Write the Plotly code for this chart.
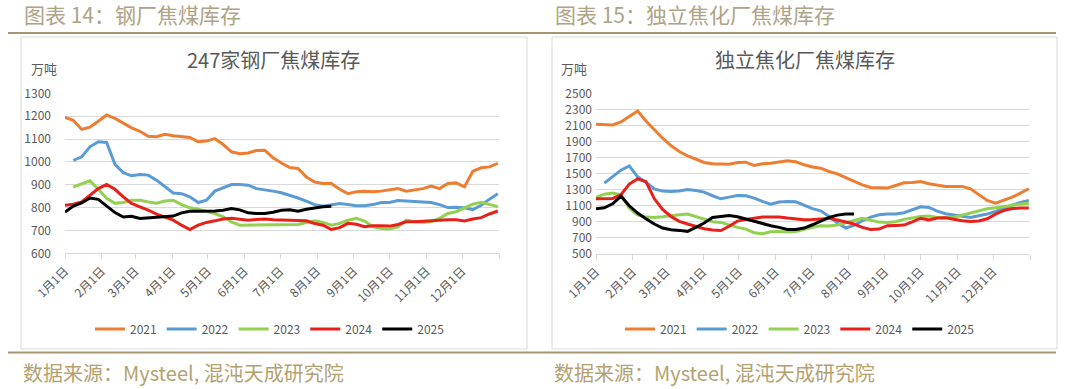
import plotly.graph_objects as go

W, H = 1080, 389

# ---------------- data ----------------
week_days = [7 * k for k in range(53)]          # day-of-year of weekly observations
month_ticks = [0, 31, 59, 90, 120, 151, 181, 212, 243, 273, 304, 334, 365]
month_labels = ["1月1日", "2月1日", "3月1日", "4月1日", "5月1日", "6月1日", "7月1日",
                "8月1日", "9月1日", "10月1日", "11月1日", "12月1日", ""]
years = ["2021", "2022", "2023", "2024", "2025"]

N = None
steel_2021 = [1195, 1182, 1142, 1152, 1178, 1205, 1190, 1168, 1149, 1134, 1112, 1110, 1121, 1114,
              1111, 1107, 1088, 1091, 1102, 1076, 1044, 1036, 1039, 1050, 1051, 1018, 995, 975,
              971, 934, 912, 905, 905, 880, 861, 869, 872, 869, 872, 876, 883, 872, 876, 883,
              894, 883, 905, 908, 891, 959, 974, 978, 993]
steel_2022 = [N, 1006, 1022, 1066, 1088, 1085, 989, 953, 939, 945, 942, 920, 891, 864, 861, 847,
              822, 832, 872, 886, 901, 901, 898, 883, 879, 872, 865, 854, 842, 828, 813, 806,
              813, 818, 813, 808, 808, 813, 822, 822, 831, 828, 825, 822, 822, 813, 800, 801,
              799, 791, 810, 837, 861]
steel_2023 = [N, 890, 904, 917, 880, 841, 819, 822, 832, 832, 825, 819, 829, 832, 813, 799, 793,
              785, 774, 759, 737, 723, 723, 723, 723, 723, 726, 726, 726, 735, 742, 735, 723,
              731, 745, 753, 741, 716, 709, 706, 716, 745, 738, 735, 738, 753, 774, 782, 797,
              815, 823, 812, 804]
steel_2024 = [810, 815, 825, 854, 883, 901, 880, 847, 818, 803, 789, 771, 759, 745, 723, 704, 723,
              735, 742, 750, 753, 750, 745, 748, 750, 747, 746, 745, 745, 742, 730, 723, 704,
              712, 731, 727, 716, 720, 720, 719, 726, 738, 738, 741, 744, 747, 747, 747, 741,
              750, 756, 772, 785]
steel_2025 = [780, 807, 820, 842, 836, 807, 778, 759, 762, 752, 755, 755, 758, 763, 777, 784, 784,
              784, 785, 788, 796, 790, 777, 774, 774, 780, 788, 790, 784, 793, 800, 804, 806]

coke_2021 = [2115, 2107, 2107, 2144, 2210, 2280, 2156, 2044, 1941, 1850, 1775, 1721, 1680, 1639,
             1622, 1618, 1618, 1639, 1643, 1601, 1622, 1630, 1647, 1659, 1647, 1610, 1583, 1568,
             1527, 1498, 1452, 1403, 1361, 1328, 1320, 1320, 1353, 1386, 1390, 1403, 1374, 1353,
             1341, 1341, 1341, 1312, 1237, 1167, 1134, 1167, 1208, 1258, 1312]
coke_2022 = [N, 1382, 1465, 1543, 1597, 1460, 1394, 1311, 1283, 1278, 1283, 1303, 1291, 1270,
             1225, 1187, 1208, 1229, 1225, 1196, 1154, 1121, 1146, 1154, 1150, 1104, 1065, 1038,
             968, 885, 823, 856, 914, 960, 989, 997, 997, 1013, 1055, 1088, 1080, 1034, 1001,
             984, 964, 955, 976, 997, 1030, 1071, 1109, 1142, 1167]
coke_2023 = [1204, 1245, 1258, 1237, 1071, 988, 959, 955, 964, 980, 989, 997, 968, 931, 902, 893,
             860, 831, 810, 765, 752, 777, 781, 773, 781, 810, 833, 852, 848, 860, 889, 918, 943,
             922, 897, 893, 902, 931, 951, 968, 972, 955, 951, 960, 984, 1013, 1034, 1063, 1075,
             1092, 1109, 1121, 1133]
coke_2024 = [1187, 1187, 1191, 1237, 1370, 1436, 1400, 1190, 1055, 968, 906, 873, 844, 815, 800,
             792, 845, 910, 931, 947, 960, 960, 960, 947, 939, 927, 929, 935, 943, 922, 902, 873,
             831, 806, 810, 852, 856, 860, 900, 945, 925, 947, 951, 931, 914, 906, 910, 939, 997,
             1042, 1067, 1071, 1071]
coke_2025 = [1063, 1075, 1125, 1220, 1100, 1009, 939, 873, 823, 802, 794, 782, 831, 885, 955, 972,
             980, 964, 935, 906, 873, 852, 831, 806, 806, 823, 864, 914, 955, 984, 997, 997]

steel_series = [steel_2021, steel_2022, steel_2023, steel_2024, steel_2025]
coke_series = [coke_2021, coke_2022, coke_2023, coke_2024, coke_2025]

steel_title = "247家钢厂焦煤库存"
coke_title = "独立焦化厂焦煤库存"
header_left = "图表 14：钢厂焦煤库存"
header_right = "图表 15：独立焦化厂焦煤库存"
source_text = "数据来源：Mysteel, 混沌天成研究院"
unit = "万吨"

# ---------------- styles ----------------
colors = ["#ED7D31", "#5B9BD5", "#92D050", "#E8201A", "#000000"]
FONT = "Noto Sans CJK SC, Noto Sans, sans-serif"
GRAY = "#595959"
GRID = "#D9D9D9"


def px(x):
    return x / W


def py(y):
    return 1 - y / H


fig = go.Figure()

for i, (yr, vals) in enumerate(zip(years, steel_series)):
    fig.add_trace(go.Scatter(x=week_days[:len(vals)], y=vals, name=yr, mode="lines",
                             line=dict(color=colors[i], width=3), xaxis="x", yaxis="y",
                             legend="legend", connectgaps=False))
for i, (yr, vals) in enumerate(zip(years, coke_series)):
    fig.add_trace(go.Scatter(x=week_days[:len(vals)], y=vals, name=yr, mode="lines",
                             line=dict(color=colors[i], width=3), xaxis="x2", yaxis="y2",
                             legend="legend2", connectgaps=False))

xcommon = dict(range=[0, 365], tickmode="array", tickvals=month_ticks, ticktext=month_labels,
               tickangle=-45, ticks="outside", ticklen=5, tickcolor=GRID, showgrid=False,
               showline=True, linecolor=GRID, linewidth=1, zeroline=False, automargin=False,
               tickfont=dict(family=FONT, size=12, color=GRAY))
ycommon = dict(showgrid=True, gridcolor=GRID, gridwidth=1, zeroline=False, showline=False,
               ticks="", automargin=False, tickfont=dict(family=FONT, size=12, color=GRAY))

fig.update_layout(
    template="none",
    width=W, height=H, autosize=False,
    margin=dict(l=0, r=0, t=0, b=0, pad=0, autoexpand=False),
    paper_bgcolor="white", plot_bgcolor="white",
    showlegend=True,
    xaxis=dict(domain=[px(65), px(499)], anchor="y", **xcommon),
    yaxis=dict(domain=[py(253.3), py(93.3)], anchor="x", range=[600, 1300],
               tickvals=list(range(600, 1301, 100)), ticklabelstandoff=13, **ycommon),
    xaxis2=dict(domain=[px(596), px(1030)], anchor="y2", **xcommon),
    yaxis2=dict(domain=[py(254), py(93.3)], anchor="x2", range=[500, 2500],
                tickvals=list(range(500, 2501, 200)), ticklabelstandoff=3, **ycommon),
    legend=dict(orientation="h", x=px(270), y=py(329), xanchor="center", yanchor="middle",
                font=dict(family=FONT, size=12, color=GRAY), itemwidth=30,
                bgcolor="rgba(0,0,0,0)", borderwidth=0),
    legend2=dict(orientation="h", x=px(800), y=py(329), xanchor="center", yanchor="middle",
                 font=dict(family=FONT, size=12, color=GRAY), itemwidth=30,
                 bgcolor="rgba(0,0,0,0)", borderwidth=0),
)

shapes = []
# chart boxes
for x0, x1 in [(21, 527), (552, 1057)]:
    shapes.append(dict(type="rect", xref="paper", yref="paper", x0=px(x0), x1=px(x1),
                       y0=py(349), y1=py(37), line=dict(color=GRID, width=1)))
# header / footer rules
for yy in [33, 352.5]:
    shapes.append(dict(type="line", xref="paper", yref="paper", x0=px(8), x1=px(1056),
                       y0=py(yy), y1=py(yy), line=dict(color="#A39670", width=2)))
fig.update_layout(shapes=shapes)

ann = []
ann.append(dict(text=header_left, x=px(22), y=py(14), xanchor="left", yanchor="middle",
                font=dict(family=FONT, size=21, color="#AFA386")))
ann.append(dict(text=header_right, x=px(553), y=py(14), xanchor="left", yanchor="middle",
                font=dict(family=FONT, size=21, color="#AFA386")))
ann.append(dict(text=source_text, x=px(21), y=py(372), xanchor="left", yanchor="middle",
                font=dict(family=FONT, size=20, color="#B4A170")))
ann.append(dict(text=source_text, x=px(552), y=py(372), xanchor="left", yanchor="middle",
                font=dict(family=FONT, size=20, color="#B4A170")))
ann.append(dict(text=steel_title, x=px(273), y=py(60), xanchor="center", yanchor="middle",
                font=dict(family=FONT, size=20, color=GRAY)))
ann.append(dict(text=coke_title, x=px(805), y=py(60), xanchor="center", yanchor="middle",
                font=dict(family=FONT, size=20, color=GRAY)))
ann.append(dict(text=unit, x=px(43.5), y=py(69), xanchor="center", yanchor="middle",
                font=dict(family=FONT, size=13, color=GRAY)))
ann.append(dict(text=unit, x=px(574), y=py(69), xanchor="center", yanchor="middle",
                font=dict(family=FONT, size=13, color=GRAY)))
for a in ann:
    a.update(xref="paper", yref="paper", showarrow=False)
fig.update_layout(annotations=ann)

# remove the browser's default 8px body margin so the figure sits at the page origin
fig.write_html("out.html", config={"displayModeBar": False},
               post_script="document.body.style.margin='0px';")
